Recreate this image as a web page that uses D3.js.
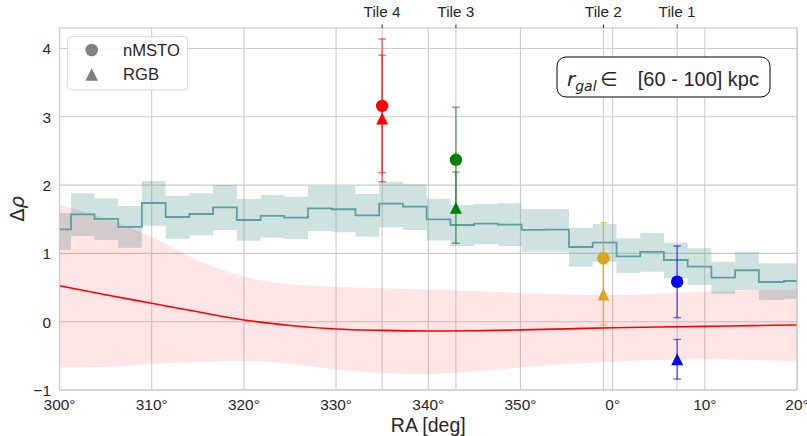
<!DOCTYPE html>
<html><head><meta charset="utf-8">
<script src="https://cdn.jsdelivr.net/npm/d3@7"></script>
<style>body{margin:0;background:#fff}svg{display:block}text{font-family:"Liberation Sans",Arial,sans-serif;fill:#262626}</style>
</head><body>
<svg id="c" width="807" height="436"></svg>
<script>
// ---- data ----
const stepRA = [300.00,302.50,305.08,307.65,310.23,312.80,315.37,317.95,320.52,323.10,325.67,328.24,330.82,333.39,335.97,338.54,341.11,343.69,346.26,348.84,351.41,353.98,356.56,359.13,361.71,364.28,366.85,369.43,372.00,374.58,377.15,380.00];
const stepVal = [1.353,1.572,1.504,1.387,1.738,1.533,1.577,1.675,1.489,1.548,1.523,1.660,1.646,1.558,1.728,1.684,1.499,1.416,1.435,1.420,1.343,1.347,1.094,1.157,0.955,1.021,0.903,0.805,0.644,0.753,0.581,0.596];
const stepHi = [1.592,1.880,1.807,1.694,2.060,1.845,1.880,2.001,1.796,1.855,1.830,1.987,1.987,1.870,2.050,2.012,1.801,1.709,1.723,1.734,1.650,1.650,1.376,1.430,1.221,1.303,1.157,1.075,0.878,1.025,0.855,0.855];
const stepLo = [1.050,1.255,1.196,1.083,1.406,1.215,1.265,1.343,1.186,1.230,1.211,1.328,1.309,1.245,1.382,1.343,1.189,1.108,1.133,1.108,1.025,1.025,0.805,0.878,0.713,0.732,0.635,0.537,0.406,0.464,0.318,0.332];

const curveRA = [300,305,310,315,320,325,330,335,340,345,350,355,360,365,370,375,380];
const curveVal = [0.527,0.395,0.27,0.145,0.025,-0.055,-0.107,-0.127,-0.136,-0.132,-0.12,-0.105,-0.088,-0.077,-0.068,-0.058,-0.048];
const curveHi = [1.71,1.52,1.24,0.90,0.66,0.55,0.51,0.49,0.47,0.45,0.42,0.40,0.39,0.41,0.44,0.46,0.47];
const curveLo = [-0.67,-0.665,-0.62,-0.59,-0.57,-0.62,-0.70,-0.756,-0.765,-0.73,-0.67,-0.62,-0.585,-0.56,-0.55,-0.56,-0.575];

const tileNames = ["Tile 4","Tile 3","Tile 2","Tile 1"];
const tileRA = [335,343,359,367];
const tileColors = ["#ff0000","#008000","#daa520","#0000ff"];
const nmsto = [3.16,2.37,0.93,0.585];
const nmstoErr = [0.98,0.77,0.52,0.525];
const rgb = [2.975,1.67,0.40,-0.55];
const rgbErr = [0.925,0.52,0.45,0.29];

const xTicks = [300,310,320,330,340,350,360,370,380];
const xTickLabels = ["300°","310°","320°","330°","340°","350°","0°","10°","20°"];
const yTicks = [-1,0,1,2,3,4];
const yTickLabels = ["\u22121","0","1","2","3","4"];
const legendLabels = ["nMSTO","RGB"];

// ---- layout ----
const L=59.5,R=797,T=28,B=390;
const svg=d3.select("#c");
const x=d3.scaleLinear().domain([300,380]).range([L,R]);
const y=d3.scaleLinear().domain([-1,4.3]).range([B,T]);
const grid="#cccccc";

svg.append("defs").append("clipPath").attr("id","clip").append("rect").attr("x",L).attr("y",T).attr("width",R-L).attr("height",B-T);

// grid
const g=svg.append("g");
g.selectAll(".gx").data(xTicks.concat(tileRA)).join("line").attr("x1",d=>x(d)).attr("x2",d=>x(d)).attr("y1",T).attr("y2",B).attr("stroke",grid).attr("stroke-width",1.1);
g.selectAll(".gy").data(yTicks).join("line").attr("x1",L).attr("x2",R).attr("y1",d=>y(d)).attr("y2",d=>y(d)).attr("stroke",grid).attr("stroke-width",1.1);

const plot=svg.append("g").attr("clip-path","url(#clip)");
const stepIdx=d3.range(stepRA.length), curIdx=d3.range(curveRA.length);

// teal band
plot.append("path").datum(stepIdx).attr("fill","rgba(95,158,160,0.3)")
 .attr("d",d3.area().curve(d3.curveStep).x(i=>x(stepRA[i])).y0(i=>y(stepLo[i])).y1(i=>y(stepHi[i])));
// pink band
plot.append("path").datum(curIdx).attr("fill","rgba(255,0,0,0.1)")
 .attr("d",d3.area().curve(d3.curveMonotoneX).x(i=>x(curveRA[i])).y0(i=>y(curveLo[i])).y1(i=>y(curveHi[i])));
// teal step
plot.append("path").datum(stepIdx).attr("fill","none").attr("stroke","#5f9ea0").attr("stroke-width",1.8)
 .attr("d",d3.line().curve(d3.curveStep).x(i=>x(stepRA[i])).y(i=>y(stepVal[i])));
// red curve
plot.append("path").datum(curIdx).attr("fill","none").attr("stroke","#ff0000").attr("stroke-width",1.6)
 .attr("d",d3.line().curve(d3.curveMonotoneX).x(i=>x(curveRA[i])).y(i=>y(curveVal[i])));

// spines
svg.append("rect").attr("x",L).attr("y",T).attr("width",R-L).attr("height",B-T).attr("fill","none").attr("stroke",grid).attr("stroke-width",1.2);

// error bars + markers
function triPath(cx,cy,s){return `M${cx},${cy-s/2}L${cx+s/2},${cy+s/2}L${cx-s/2},${cy+s/2}Z`;}
tileRA.forEach((ra,i)=>{
  const cx=x(ra), col=tileColors[i];
  [[nmsto[i],nmstoErr[i]],[rgb[i],rgbErr[i]]].forEach(([v,e])=>{
    const eg=plot.append("g").attr("stroke",col).attr("stroke-opacity",0.55).attr("stroke-width",1.5);
    eg.append("line").attr("x1",cx).attr("x2",cx).attr("y1",y(v-e)).attr("y2",y(v+e));
    [v-e,v+e].forEach(t=>eg.append("line").attr("x1",cx-3.8).attr("x2",cx+3.8).attr("y1",y(t)).attr("y2",y(t)));
  });
});
tileRA.forEach((ra,i)=>{
  const cx=x(ra), col=tileColors[i];
  plot.append("circle").attr("cx",cx).attr("cy",y(nmsto[i])).attr("r",6.2).attr("fill",col);
  plot.append("path").attr("d",triPath(cx,y(rgb[i]),12)).attr("fill",col);
});

// axes ticks labels
svg.selectAll(".xl").data(xTicks).join("text").attr("x",d=>x(d)).attr("y",410).attr("text-anchor","middle").attr("font-size",15.4).text((d,i)=>xTickLabels[i]);
svg.selectAll(".yl").data(yTicks).join("text").attr("x",51).attr("y",d=>y(d)+6).attr("text-anchor","end").attr("font-size",15.4).text((d,i)=>yTickLabels[i]);
// top axis
svg.selectAll(".tt").data(tileRA).join("line").attr("x1",d=>x(d)).attr("x2",d=>x(d)).attr("y1",24.5).attr("y2",T).attr("stroke","#262626").attr("stroke-width",1);
svg.selectAll(".tl").data(tileRA).join("text").attr("x",d=>x(d)).attr("y",17).attr("text-anchor","middle").attr("font-size",15.4).text((d,i)=>tileNames[i]);

svg.append("text").attr("x",(L+R)/2).attr("y",432).attr("text-anchor","middle").attr("font-size",19.5).text("RA [deg]");
const yl=svg.append("text").attr("transform",`translate(24,${(T+B)/2}) rotate(-90)`).attr("text-anchor","middle").attr("font-size",19.5).style("font-family","'DejaVu Sans',sans-serif");
yl.append("tspan").text("Δ");
yl.append("tspan").attr("font-style","italic").text("ρ");

// legend
const lg=svg.append("g");
lg.append("rect").attr("x",67.7).attr("y",36.7).attr("width",120).attr("height",53.3).attr("rx",4).attr("fill","rgba(255,255,255,0.8)").attr("stroke","#d6d6d6");
lg.append("circle").attr("cx",91.7).attr("cy",50).attr("r",6.3).attr("fill","#808080");
lg.append("path").attr("d",triPath(91.7,74.5,12.5)).attr("fill","#808080");
lg.selectAll(".lt").data(legendLabels).join("text").attr("x",123).attr("y",(d,i)=>56+i*24.3).attr("font-size",16.6).text(d=>d);

// annotation box
const ab=svg.append("g");
ab.append("rect").attr("x",557).attr("y",57).attr("width",213).attr("height",40).attr("rx",9).attr("fill","#fff").attr("stroke","#000").attr("stroke-width",1);
const t1=ab.append("text").attr("x",567).attr("y",86).attr("font-size",20).style("font-family","'DejaVu Sans',sans-serif");
t1.append("tspan").attr("font-style","italic").text("r");
t1.append("tspan").attr("font-style","italic").attr("font-size",14).attr("dy",5).text("gal");
ab.append("text").attr("x",600).attr("y",86).attr("font-size",20).style("font-family","'DejaVu Sans',sans-serif").text("∈");
ab.append("text").attr("x",759).attr("y",86).attr("text-anchor","end").attr("font-size",20).text("[60 - 100] kpc");
</script>
</body></html>
